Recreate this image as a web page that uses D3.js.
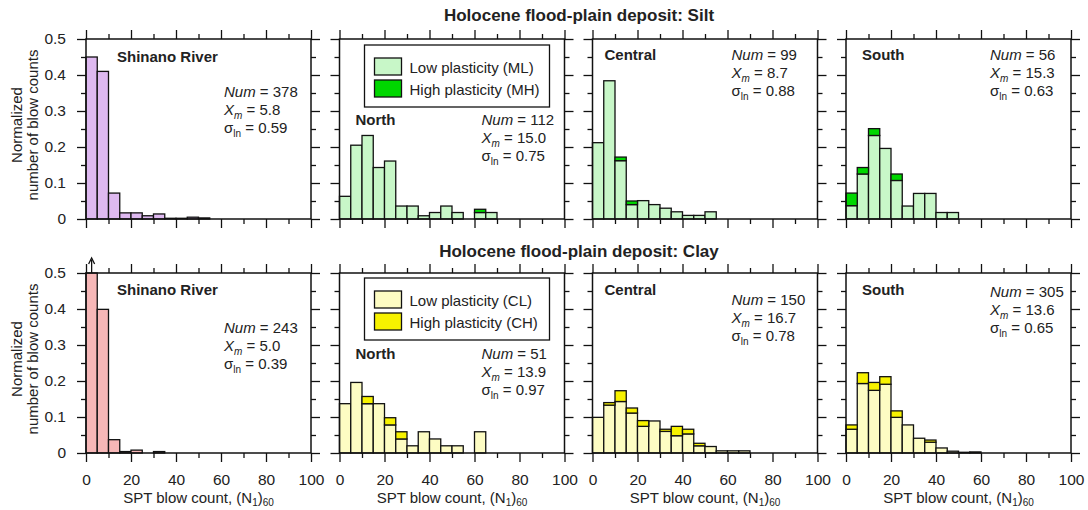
<!DOCTYPE html>
<html>
<head>
<meta charset="utf-8">
<script src="https://cdn.jsdelivr.net/npm/d3@7"></script>
<style>
  body { margin: 0; background: #fff; }
  text { font-family: "Liberation Sans", Arial, sans-serif; fill: #222; }
</style>
</head>
<body>
<div id="chart"></div>
<script>
// bin starts of SPT blow count, bins are 5 wide
var binStarts = [0, 5, 10, 15, 20, 25, 30, 35, 40, 45, 50, 55, 60, 65, 70, 75, 80, 85, 90, 95];
var binWidth = 5;

var rowTitles = ["Holocene flood-plain deposit: Silt", "Holocene flood-plain deposit: Clay"];
var regions = ["Shinano River", "North", "Central", "South"];
var yTicks = [0, 0.1, 0.2, 0.3, 0.4, 0.5];
var xTicks = [0, 20, 40, 60, 80, 100];

// silt, normalized counts (low plasticity ML / high plasticity MH)
var siltShinano = [0.450, 0.410, 0.072, 0.017, 0.017, 0.009, 0.014, 0.002, 0.002, 0.005, 0.003];
var siltNorthLow = [0.063, 0.205, 0.232, 0.143, 0.161, 0.036, 0.036, 0.009, 0.018, 0.036, 0.018, 0, 0.018, 0.018];
var siltNorthHigh = [0, 0, 0, 0, 0, 0, 0, 0, 0, 0, 0, 0, 0.009, 0];
var siltCentralLow = [0.212, 0.384, 0.162, 0.040, 0.051, 0.040, 0.030, 0.020, 0.010, 0.010, 0.020];
var siltCentralHigh = [0, 0, 0.010, 0.010, 0, 0, 0, 0, 0, 0, 0];
var siltSouthLow = [0.037, 0.125, 0.232, 0.196, 0.107, 0.036, 0.071, 0.071, 0.018, 0.018];
var siltSouthHigh = [0.035, 0.018, 0.019, 0, 0.018, 0, 0, 0, 0, 0];

// clay, normalized counts (low plasticity CL / high plasticity CH)
var clayShinano = [0.547, 0.399, 0.037, 0.004, 0.008, 0, 0.004];
var clayNorthLow = [0.137, 0.196, 0.137, 0.137, 0.078, 0.039, 0.020, 0.059, 0.039, 0.020, 0.020, 0, 0.059];
var clayNorthHigh = [0, 0, 0.020, 0, 0.020, 0.020, 0, 0, 0, 0, 0, 0, 0];
var clayCentralLow = [0.099, 0.133, 0.143, 0.111, 0.074, 0.089, 0.060, 0.048, 0.053, 0.020, 0.018, 0.006, 0.006, 0.006];
var clayCentralHigh = [0, 0.007, 0.030, 0.014, 0.016, 0, 0.006, 0.026, 0.013, 0.007, 0, 0, 0, 0];
var claySouthLow = [0.066, 0.193, 0.174, 0.191, 0.099, 0.078, 0.041, 0.030, 0.014, 0.005, 0.002, 0.003];
var claySouthHigh = [0.012, 0.030, 0.022, 0.021, 0.018, 0, 0, 0.006, 0, 0, 0, 0];

// statistics: Num, Xm, sigma_ln
var siltNum = [378, 112, 99, 56];
var siltXm = ["5.8", "15.0", "8.7", "15.3"];
var siltSigma = ["0.59", "0.75", "0.88", "0.63"];
var clayNum = [243, 51, 150, 305];
var clayXm = ["5.0", "13.9", "16.7", "13.6"];
var claySigma = ["0.39", "0.97", "0.78", "0.65"];

var siltLegend = ["Low plasticity (ML)", "High plasticity (MH)"];
var clayLegend = ["Low plasticity (CL)", "High plasticity (CH)"];

var svg_w = 1088, svg_h = 510;
var panel_w = 225, panel_h = 180;
var panelLeft = [86, 339.5, 592.5, 846];
var rowTop = [39, 273];

var colors = {
  silt: { shinano: "#deb9f0", low: "#c8f7c8", high: "#00d700" },
  clay: { shinano: "#f6b7b7", low: "#fdfcc3", high: "#f7f200" }
};

// where the region name and stats sit inside each panel [nameX, nameY, statX, statY]
var labelPos = [
  [[31, 23, 138, 58], [16, 86, 142, 86], [12, 21, 139, 21], [16, 21, 144, 21]],
  [[31, 22, 138, 60], [16, 86, 142, 86], [12, 22, 139, 32], [16, 22, 144, 24]]
];

var rows = [
  { title: rowTitles[0], col: colors.silt, legend: siltLegend,
    low: [siltShinano, siltNorthLow, siltCentralLow, siltSouthLow],
    high: [null, siltNorthHigh, siltCentralHigh, siltSouthHigh],
    num: siltNum, xm: siltXm, sig: siltSigma },
  { title: rowTitles[1], col: colors.clay, legend: clayLegend,
    low: [clayShinano, clayNorthLow, clayCentralLow, claySouthLow],
    high: [null, clayNorthHigh, clayCentralHigh, claySouthHigh],
    num: clayNum, xm: clayXm, sig: claySigma }
];

var svg = d3.select("#chart")
      .append("svg")
      .attr("width", svg_w)
      .attr("height", svg_h);

var xScale = d3.scaleLinear().domain([0, 100]).range([0, panel_w]);
var yScale = d3.scaleLinear().domain([0, 0.5]).range([panel_h, 0]).clamp(true);

var majorX = xTicks, minorX = [10, 30, 50, 70, 90];
var majorY = yTicks, minorY = [0.05, 0.15, 0.25, 0.35, 0.45];

function drawTicks(g, axisFn, scale, major, minor, tr, labels) {
  var a1 = g.append("g").attr("transform", tr)
    .call(axisFn(scale).tickValues(major).tickSize(9).tickPadding(labels === "x" ? 12 : 11)
      .tickFormat(labels ? (labels === "y" ? d3.format(".1~f") : d3.format("d")) : ""));
  var a2 = g.append("g").attr("transform", tr)
    .call(axisFn(scale).tickValues(minor).tickSize(5).tickFormat(""));
  [a1, a2].forEach(function(a) {
    a.select(".domain").remove();
    a.selectAll("line").attr("stroke", "#111").attr("stroke-width", 1.3);
    a.selectAll("text").style("font-size", "15.5px").attr("fill", "#222")
      .style("font-family", "Liberation Sans, Arial, sans-serif");
  });
  return a1;
}

rows.forEach(function(row, r) {
  // row title
  svg.append("text")
    .attr("x", 579)
    .attr("y", rowTop[r] - (r == 0 ? 18 : 16))
    .attr("text-anchor", "middle")
    .style("font-weight", "bold")
    .style("font-size", "17px")
    .text(row.title);

  regions.forEach(function(name, c) {
    var g = svg.append("g")
          .attr("transform", "translate(" + panelLeft[c] + "," + rowTop[r] + ")");

    var low = row.low[c];
    var high = row.high[c];
    var bars = low.map(function(v, i) {
      return { x0: binStarts[i], low: v, high: high ? high[i] : 0 };
    }).filter(function(d) { return d.low + d.high > 0; });

    var lowFill = c == 0 ? row.col.shinano : row.col.low;

    g.selectAll("rect.low")
      .data(bars)
      .enter()
      .append("rect")
      .attr("class", "low")
      .attr("x", function(d) { return xScale(d.x0); })
      .attr("width", function(d) { return xScale(d.x0 + binWidth) - xScale(d.x0); })
      .attr("y", function(d) { return yScale(d.low); })
      .attr("height", function(d) { return yScale(0) - yScale(d.low); })
      .style("fill", lowFill)
      .style("stroke", "#111")
      .style("stroke-width", 1.3);

    g.selectAll("rect.high")
      .data(bars.filter(function(d) { return d.high > 0; }))
      .enter()
      .append("rect")
      .attr("class", "high")
      .attr("x", function(d) { return xScale(d.x0); })
      .attr("width", function(d) { return xScale(d.x0 + binWidth) - xScale(d.x0); })
      .attr("y", function(d) { return yScale(d.low + d.high); })
      .attr("height", function(d) { return yScale(d.low) - yScale(d.low + d.high); })
      .style("fill", row.col.high)
      .style("stroke", "#111")
      .style("stroke-width", 1.3);

    // arrow for bars going off the top
    bars.filter(function(d) { return d.low + d.high > 0.5; }).forEach(function(d) {
      var cx = xScale(d.x0 + binWidth / 2);
      g.append("line")
        .attr("x1", cx).attr("x2", cx)
        .attr("y1", yScale(0.5)).attr("y2", yScale(0.5) - 13)
        .style("stroke", "#111").style("stroke-width", 1.3);
      g.append("path")
        .attr("d", "M" + (cx - 3) + "," + (yScale(0.5) - 9) + "L" + cx + "," + (yScale(0.5) - 15) + "L" + (cx + 3) + "," + (yScale(0.5) - 9))
        .style("fill", "none").style("stroke", "#111").style("stroke-width", 1.3);
    });

    // frame
    g.append("rect")
      .attr("width", panel_w)
      .attr("height", panel_h)
      .style("fill", "none")
      .style("stroke", "#111")
      .style("stroke-width", 1.5);

    // ticks on all four sides, pointing out
    drawTicks(g, d3.axisBottom, xScale, majorX, minorX, "translate(0," + panel_h + ")", r == 1 ? "x" : null);
    drawTicks(g, d3.axisTop, xScale, majorX, minorX, "translate(0,0)", null);
    drawTicks(g, d3.axisLeft, yScale, majorY, minorY, "translate(0,0)", c == 0 ? "y" : null);
    drawTicks(g, d3.axisRight, yScale, majorY, minorY, "translate(" + panel_w + ",0)", null);

    // region name
    var p = labelPos[r][c];
    g.append("text")
      .attr("x", p[0]).attr("y", p[1])
      .style("font-weight", "bold")
      .style("font-size", "15px")
      .text(name);

    // statistics
    var st = g.append("text").attr("x", p[2]).attr("y", p[3]).style("font-size", "15px");
    st.append("tspan").style("font-style", "italic").text("Num");
    st.append("tspan").text(" = " + row.num[c]);

    var st2 = g.append("text").attr("x", p[2]).attr("y", p[3] + 17.5).style("font-size", "15px");
    st2.append("tspan").style("font-style", "italic").text("X");
    st2.append("tspan").style("font-style", "italic").style("font-size", "10px").attr("dy", 4).text("m");
    st2.append("tspan").attr("dy", -4).text(" = " + row.xm[c]);

    var st3 = g.append("text").attr("x", p[2]).attr("y", p[3] + 36).style("font-size", "15px");
    st3.append("tspan").text("σ");
    st3.append("tspan").style("font-size", "10px").attr("dy", 4).text("ln");
    st3.append("tspan").attr("dy", -4).text(" = " + row.sig[c]);

    // legend lives in the North panel
    if (c == 1) {
      var lg = g.append("g").attr("transform", "translate(25," + (r == 0 ? 6 : 5) + ")");
      lg.append("rect")
        .attr("width", 185).attr("height", 62)
        .style("fill", "#fff").style("stroke", "#111").style("stroke-width", 1.3);
      [row.col.low, row.col.high].forEach(function(fill, k) {
        lg.append("rect")
          .attr("x", 10).attr("y", 13 + k * 22)
          .attr("width", 27).attr("height", 17)
          .style("fill", fill).style("stroke", "#111").style("stroke-width", 1.3);
        lg.append("text")
          .attr("x", 45).attr("y", 28 + k * 21.5)
          .style("font-size", "15px")
          .text(row.legend[k]);
      });
    }

    // y axis title on the left column
    if (c == 0) {
      var yt = svg.append("text")
        .attr("text-anchor", "middle")
        .attr("transform", "translate(" + 22 + "," + (rowTop[r] + panel_h / 2 - 4) + ") rotate(-90)")
        .style("font-size", "15px");
      yt.append("tspan").attr("x", 0).attr("dy", 0).text("Normalized");
      yt.append("tspan").attr("x", 0).attr("dy", 15.5).text("number of blow counts");
    }

    // x axis title on the bottom row
    if (r == 1) {
      var xt = g.append("text")
        .attr("x", panel_w / 2)
        .attr("y", panel_h + 50)
        .attr("text-anchor", "middle")
        .style("font-size", "15px");
      xt.append("tspan").text("SPT blow count, (N");
      xt.append("tspan").style("font-size", "10px").attr("dy", 3).text("1");
      xt.append("tspan").attr("dy", -3).text(")");
      xt.append("tspan").style("font-size", "10px").attr("dy", 3).text("60");
    }
  });
});
</script>
</body>
</html>
